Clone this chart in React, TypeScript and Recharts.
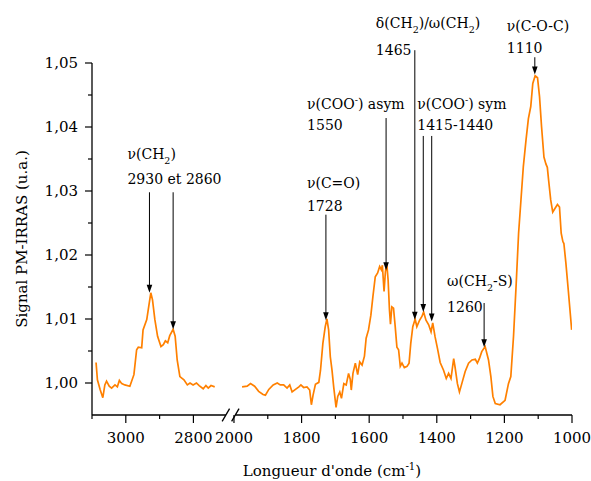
import React from 'react';
import { LineChart, Line, XAxis, YAxis, ReferenceLine } from 'recharts';

const FONT = "'DejaVu Serif', serif";
const ORANGE = '#FF8000';

// High-wavenumber part of the spectrum (cm-1) and PM-IRRAS signal
const highWavenumber = [3088, 3084, 3076, 3068, 3062, 3057, 3049, 3042, 3032, 3025, 3019, 3012, 3003, 2988, 2976, 2968, 2963, 2953, 2949, 2938, 2932, 2926, 2921, 2914, 2906, 2896, 2889, 2883, 2876, 2870, 2860, 2854, 2848, 2840, 2828, 2818, 2810, 2801, 2791, 2783, 2771, 2763, 2756, 2748, 2737];
const highSignal = [1.0032, 1.0005, 0.999, 0.9977, 0.9997, 1.0003, 0.9995, 0.9992, 0.9997, 0.9994, 1.0004, 0.9999, 0.9997, 0.9995, 1.0013, 1.0052, 1.0056, 1.0055, 1.0083, 1.0099, 1.012, 1.0141, 1.013, 1.0099, 1.0073, 1.0057, 1.006, 1.0066, 1.0063, 1.0074, 1.0084, 1.0073, 1.0036, 1.001, 1.0005, 0.9997, 1.0, 0.9997, 1.0, 0.9996, 0.9991, 0.9996, 0.9992, 0.9996, 0.9994];

// Low-wavenumber part of the spectrum (cm-1) and PM-IRRAS signal
const lowWavenumber = [1976, 1961, 1951, 1939, 1927, 1914, 1907, 1897, 1884, 1872, 1863, 1853, 1843, 1835, 1828, 1818, 1808, 1802, 1794, 1784, 1776, 1771, 1766, 1759, 1749, 1744, 1737, 1730, 1725, 1720, 1715, 1710, 1705, 1698, 1693, 1687, 1682, 1675, 1668, 1661, 1656, 1653, 1648, 1641, 1634, 1628, 1621, 1614, 1609, 1602, 1595, 1589, 1582, 1575, 1569, 1564, 1561, 1556, 1552, 1548, 1544, 1540, 1537, 1533, 1528, 1523, 1518, 1513, 1508, 1503, 1496, 1488, 1482, 1477, 1471, 1464, 1459, 1451, 1444, 1439, 1432, 1424, 1417, 1412, 1405, 1398, 1390, 1380, 1372, 1365, 1358, 1350, 1346, 1339, 1333, 1326, 1316, 1306, 1296, 1286, 1280, 1274, 1267, 1257, 1247, 1240, 1234, 1227, 1213, 1198, 1188, 1181, 1173, 1165, 1158, 1151, 1144, 1136, 1129, 1122, 1116, 1109, 1102, 1096, 1090, 1083, 1077, 1073, 1069, 1063, 1057, 1050, 1043, 1037, 1032, 1027, 1024, 1018, 1011, 1006, 1001];
const lowSignal = [0.9994, 0.9995, 0.9999, 0.9995, 0.9987, 0.9982, 0.9981, 0.999, 0.9997, 1.0, 0.9997, 0.9997, 0.9992, 0.9997, 0.9986, 0.999, 0.9994, 0.9997, 0.9993, 0.9994, 0.9989, 0.9966, 0.9981, 0.9998, 1.0001, 1.002, 1.0062, 1.0088, 1.01, 1.0083, 1.0041, 1.002, 0.9994, 0.9962, 0.9979, 0.9986, 0.9976, 0.9999, 0.9997, 1.0015, 1.0006, 0.9989, 1.0015, 1.0031, 1.0013, 1.0033, 1.0028, 1.0042, 1.007, 1.0083, 1.0106, 1.0135, 1.0166, 1.0172, 1.0182, 1.0177, 1.0184, 1.0143, 1.0174, 1.0187, 1.0161, 1.0114, 1.0092, 1.0119, 1.0117, 1.0088, 1.0056, 1.0052, 1.0026, 1.0031, 1.0024, 1.0026, 1.0031, 1.0062, 1.0088, 1.01, 1.0088, 1.0098, 1.0104, 1.0111, 1.0098, 1.0091, 1.008, 1.0094, 1.0072, 1.0054, 1.0032, 1.002, 1.0007, 1.0015, 1.0007, 1.0038, 1.0025, 0.9999, 0.9986, 0.9999, 1.0018, 1.0031, 1.0036, 1.0037, 1.0031, 1.0038, 1.0049, 1.0057, 1.0036, 1.001, 0.9979, 0.9968, 0.9966, 0.9973, 0.9999, 1.001, 1.0073, 1.0156, 1.0234, 1.0286, 1.0338, 1.038, 1.0413, 1.0432, 1.0468, 1.048, 1.0477, 1.0447, 1.04, 1.0353, 1.0342, 1.0337, 1.0316, 1.0286, 1.0267, 1.0273, 1.0279, 1.0275, 1.0234, 1.0221, 1.0218, 1.0187, 1.0145, 1.0114, 1.0083];

// Axis ticks
const xTickWavenumbers = [3100, 3000, 2900, 2800, 2000, 1900, 1800, 1700, 1600, 1500, 1400, 1300, 1200, 1100, 1000];
const xTickLabels = ['', '3000', '', '2800', '2000', '', '1800', '', '1600', '', '1400', '', '1200', '', '1000'];
const yTicks = [1.0, 1.005, 1.01, 1.015, 1.02, 1.025, 1.03, 1.035, 1.04, 1.045, 1.05];
const yTickLabels = ['1,00', '', '1,01', '', '1,02', '', '1,03', '', '1,04', '', '1,05'];
const yDomain = [0.995, 1.05];

// Band assignments (arrows)
const arrowWavenumbers = [2930, 2860, 1728, 1550, 1465, 1440, 1415, 1260, 1110];
const arrowTips = [1.0141, 1.0084, 1.0098, 1.0176, 1.0099, 1.0111, 1.0096, 1.0056, 1.0482];
const arrowTops = [1.0298, 1.0298, 1.0263, 1.0414, 1.052, 1.0386, 1.0386, 1.0125, 1.0509];
const bandNames = ['ν(CH_2)', '', 'ν(C=O)', 'ν(COO^-) asym', 'δ(CH_2)/ω(CH_2)', 'ν(COO^-) sym', '', 'ω(CH_2-S)', 'ν(C-O-C)'];
const bandValues = ['2930 et 2860', '', '1728', '1550', '1465', '1415-1440', '', '1260', '1110'];
// label layout (pixel offsets from the arrow top)
const labelLayout = [
  { dx: -22, name: -33, value: -8 },
  null,
  { dx: -19, name: -27, value: -4 },
  { dx: -79, name: -9, value: 12 },
  { dx: -39, name: -22, value: 5 },
  { dx: -6, name: -27, value: -6 },
  null,
  { dx: -37, name: -17, value: 9 },
  { dx: -28, name: -26, value: -4 },
];

// Broken axis: 3100-2700 then 2000-1000
const HIGH_START = 3100;
const HIGH_END = 2700;
const LOW_START = 2000;
const LOW_END = 1000;
const GAP = 20;
const toPos = (wn: number) =>
  wn > 2350 ? HIGH_START - wn : HIGH_START - HIGH_END + GAP + (LOW_START - wn);
const X_MAX = toPos(LOW_END);
const BREAK_A = 396;
const BREAK_B = 424;

const data = [
  ...highWavenumber.map((wn, i) => ({ pos: toPos(wn), v: highSignal[i] })),
  { pos: (HIGH_START - HIGH_END) + GAP / 2, v: null },
  ...lowWavenumber.map((wn, i) => ({ pos: toPos(wn), v: lowSignal[i] })),
];
const xTickPositions = xTickWavenumbers.map(toPos);

function rich(s: string, fs: number) {
  const parts: { t: string; k: string }[] = [];
  let buf = '';
  for (let i = 0; i < s.length; i++) {
    const c = s[i];
    if ((c === '_' || c === '^') && i + 1 < s.length) {
      if (buf) {
        parts.push({ t: buf, k: 'n' });
        buf = '';
      }
      parts.push({ t: s[i + 1], k: c === '_' ? 'sub' : 'sup' });
      i++;
    } else buf += c;
  }
  if (buf) parts.push({ t: buf, k: 'n' });
  let cur = 0;
  return parts.map((p, i) => {
    const target = p.k === 'sub' ? fs * 0.35 : p.k === 'sup' ? -fs * 0.4 : 0;
    const dy = target - cur;
    cur = target;
    return (
      <tspan key={i} dy={dy} fontSize={p.k === 'n' ? fs : fs * 0.68}>
        {p.t}
      </tspan>
    );
  });
}

const XTick = (props: any) => {
  const { x, y, payload } = props;
  const idx = xTickPositions.indexOf(payload.value);
  const label = xTickLabels[idx] ?? '';
  const major = label !== '';
  return (
    <g>
      <line x1={x} x2={x} y1={y} y2={y + (major ? 8 : 4)} stroke="#000" strokeWidth={1.2} />
      {major && (
        <text x={x} y={y + 28} textAnchor="middle" fontFamily={FONT} fontSize={15} fill="#000">
          {label}
        </text>
      )}
    </g>
  );
};

const YTick = (props: any) => {
  const { x, y, payload } = props;
  const idx = yTicks.findIndex((t) => Math.abs(t - payload.value) < 1e-9);
  const label = yTickLabels[idx] ?? '';
  const major = label !== '';
  return (
    <g>
      <line x1={x - (major ? 7 : 4)} x2={x} y1={y} y2={y} stroke="#000" strokeWidth={1.2} />
      {major && (
        <text x={x - 14} y={y + 5} textAnchor="end" fontFamily={FONT} fontSize={15} fill="#000">
          {label}
        </text>
      )}
    </g>
  );
};

const makeArrow = (i: number) => (props: any) => {
  const { x1, y1, x2, y2 } = props;
  const x = (x1 + x2) / 2;
  const top = Math.min(y1, y2);
  const tip = Math.max(y1, y2);
  const lay = labelLayout[i];
  const fs = 14;
  return (
    <g>
      <line x1={x} x2={x} y1={top} y2={tip - 7} stroke="#000" strokeWidth={1} />
      <polygon points={`${x - 2.8},${tip - 8} ${x + 2.8},${tip - 8} ${x},${tip}`} fill="#000" />
      {lay && (
        <g fontFamily={FONT} fill="#000">
          <text x={x + lay.dx} y={top + lay.name} fontSize={fs}>
            {rich(bandNames[i], fs)}
          </text>
          <text x={x + lay.dx} y={top + lay.value} fontSize={fs}>
            {bandValues[i]}
          </text>
        </g>
      )}
    </g>
  );
};

const slashShape = (props: any) => {
  const { x1, y1, x2, y2 } = props;
  return <line x1={x1} y1={y1} x2={x2} y2={y2} stroke="#000" strokeWidth={1.3} />;
};

const yTitle = (props: any) => {
  const vb = props.viewBox || {};
  const cx = 27;
  const cy = vb.y + vb.height / 2;
  return (
    <text
      x={cx}
      y={cy}
      transform={`rotate(-90, ${cx}, ${cy})`}
      textAnchor="middle"
      fontFamily={FONT}
      fontSize={15}
      fill="#000"
    >
      Signal PM-IRRAS (u.a.)
    </text>
  );
};

const xTitle = (props: any) => {
  const vb = props.viewBox || {};
  const cx = vb.x + vb.width / 2;
  const cy = vb.y + 61;
  return (
    <text x={cx} y={cy} textAnchor="middle" fontFamily={FONT} fontSize={15} fill="#000">
      {rich("Longueur d'onde (cm^-^1)", 15)}
    </text>
  );
};

export default function App() {
  const yMin = yDomain[0];
  return (
    <div style={{ position: 'absolute', left: 0, top: 0, width: 591, height: 481, background: '#fff' }}>
      <LineChart width={591} height={481} data={data} margin={{ top: 63, right: 19, left: 0, bottom: 0 }}>
        <XAxis
          type="number"
          dataKey="pos"
          domain={[0, X_MAX]}
          ticks={xTickPositions}
          interval={0}
          tickSize={0}
          tickMargin={0}
          tickLine={false}
          axisLine={false}
          tick={XTick}
          height={66}
          allowDataOverflow
          label={{ content: xTitle }}
        />
        <YAxis
          type="number"
          domain={yDomain}
          ticks={yTicks}
          interval={0}
          tickSize={0}
          tickMargin={0}
          tickLine={false}
          axisLine={{ stroke: '#000', strokeWidth: 1.3 }}
          tick={YTick}
          width={92}
          allowDataOverflow
          label={{ content: yTitle }}
        />
        <ReferenceLine
          segment={[{ x: 0, y: yMin }, { x: BREAK_A, y: yMin }]}
          stroke="#000"
          strokeWidth={1.3}
          ifOverflow="visible"
        />
        <ReferenceLine
          segment={[{ x: BREAK_B, y: yMin }, { x: X_MAX, y: yMin }]}
          stroke="#000"
          strokeWidth={1.3}
          ifOverflow="visible"
        />
        <ReferenceLine
          segment={[{ x: BREAK_A - 11, y: yMin - 0.001 }, { x: BREAK_A + 11, y: yMin + 0.001 }]}
          ifOverflow="visible"
          shape={slashShape}
        />
        <ReferenceLine
          segment={[{ x: BREAK_B - 11, y: yMin - 0.001 }, { x: BREAK_B + 11, y: yMin + 0.001 }]}
          ifOverflow="visible"
          shape={slashShape}
        />
        <Line
          type="linear"
          dataKey="v"
          stroke={ORANGE}
          strokeWidth={1.7}
          dot={false}
          connectNulls={false}
          isAnimationActive={false}
        />
        {arrowWavenumbers.map((wn, i) => (
          <ReferenceLine
            key={wn}
            segment={[{ x: toPos(wn), y: arrowTops[i] }, { x: toPos(wn), y: arrowTips[i] }]}
            ifOverflow="visible"
            shape={makeArrow(i)}
          />
        ))}
      </LineChart>
    </div>
  );
}
